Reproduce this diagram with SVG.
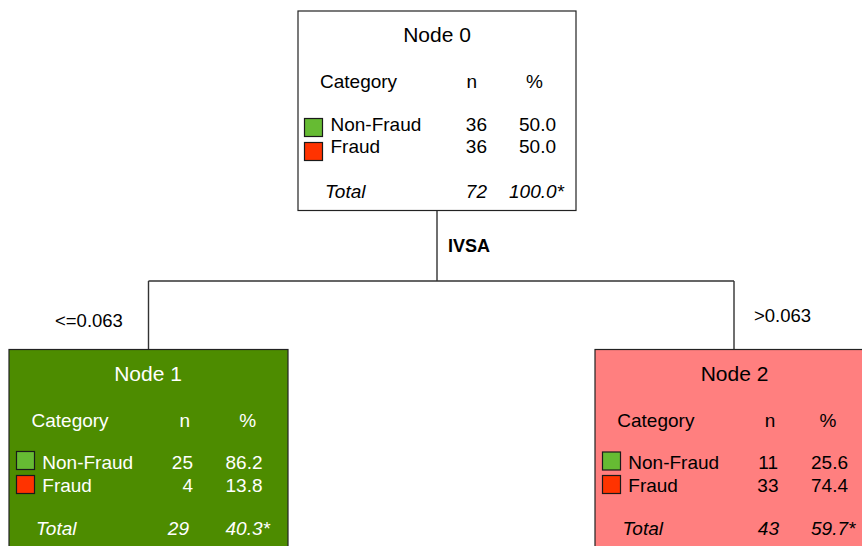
<svg xmlns="http://www.w3.org/2000/svg" width="862" height="546" viewBox="0 0 862 546">
<style>
text{font-family:"Liberation Sans",Arial,Helvetica,sans-serif;font-size:19px;fill:#000}
.title{font-size:21px;text-anchor:middle}
.mid{text-anchor:middle}
.end{text-anchor:end}
.it{font-style:italic}
.w text{fill:#fff}
.box{stroke:#222;stroke-width:1.2}
.sw{stroke:#1a1a1a;stroke-width:1.2}
.g{fill:#66bb33}
.r{fill:#ff3300}
.conn{fill:none;stroke:#333;stroke-width:1.4}
.lbl{font-size:18.5px}
</style>
<rect width="862" height="546" fill="#fff"/>
<g id="connectors">
<path class="conn" d="M437 211V281M148.5 281H734M148.5 281V349.5M734 281V349.5"/>
<text x="448" y="252" style="font-weight:bold;font-size:18px">IVSA</text>
<text class="lbl" x="55" y="327">&lt;=0.063</text>
<text class="lbl" x="754" y="322">&gt;0.063</text>
</g>
<g id="node0">
<rect class="box" x="298" y="11" width="278" height="199.5" fill="#fff"/>
<text class="title" x="437" y="42">Node 0</text>
<text x="320" y="87.5">Category</text>
<text class="mid" x="471.7" y="87.5">n</text>
<text class="mid" x="534.5" y="87.5">%</text>
<rect class="sw g" x="304.5" y="118.5" width="18" height="18"/>
<rect class="sw r" x="304.5" y="142.5" width="18" height="18"/>
<text x="330.5" y="131">Non-Fraud</text>
<text x="330.5" y="153">Fraud</text>
<text class="end" x="487" y="131">36</text>
<text class="end" x="556" y="131">50.0</text>
<text class="end" x="487" y="153">36</text>
<text class="end" x="556" y="153">50.0</text>
<text class="it" x="325" y="197.5">Total</text>
<text class="it end" x="487" y="197.5">72</text>
<text class="it" x="509" y="197.5">100.0*</text>
</g>
<g id="node1" class="w">
<rect class="box" x="9" y="349.5" width="279" height="210" fill="#4d8c00"/>
<text class="title" x="148" y="380.7">Node 1</text>
<text x="31.5" y="426.5">Category</text>
<text class="mid" x="184.7" y="426.5">n</text>
<text class="mid" x="247.7" y="426.5">%</text>
<rect class="sw g" x="16.5" y="451.5" width="18" height="18"/>
<rect class="sw r" x="16.5" y="475.5" width="18" height="18"/>
<text x="42.3" y="469.3">Non-Fraud</text>
<text x="42.3" y="491.5">Fraud</text>
<text class="end" x="193" y="469.3">25</text>
<text class="end" x="262.5" y="469.3">86.2</text>
<text class="end" x="193" y="491.5">4</text>
<text class="end" x="262.5" y="491.5">13.8</text>
<text class="it" x="36" y="535">Total</text>
<text class="it end" x="189" y="535">29</text>
<text class="it" x="225.5" y="535">40.3*</text>
</g>
<g id="node2">
<rect class="box" x="595" y="349.5" width="279" height="210" fill="#ff7f7f"/>
<text class="title" x="734.5" y="380.7">Node 2</text>
<text x="617.3" y="426.5">Category</text>
<text class="mid" x="770" y="426.5">n</text>
<text class="mid" x="828" y="426.5">%</text>
<rect class="sw g" x="602.5" y="452" width="18" height="18"/>
<rect class="sw r" x="602.5" y="475.5" width="18" height="18"/>
<text x="628.3" y="469.3">Non-Fraud</text>
<text x="628.3" y="491.5">Fraud</text>
<text class="end" x="778" y="469.3">11</text>
<text class="end" x="848" y="469.3">25.6</text>
<text class="end" x="778.5" y="491.5">33</text>
<text class="end" x="848" y="491.5">74.4</text>
<text class="it" x="622.5" y="535">Total</text>
<text class="it end" x="779" y="535">43</text>
<text class="it" x="811" y="535">59.7*</text>
</g>
</svg>
